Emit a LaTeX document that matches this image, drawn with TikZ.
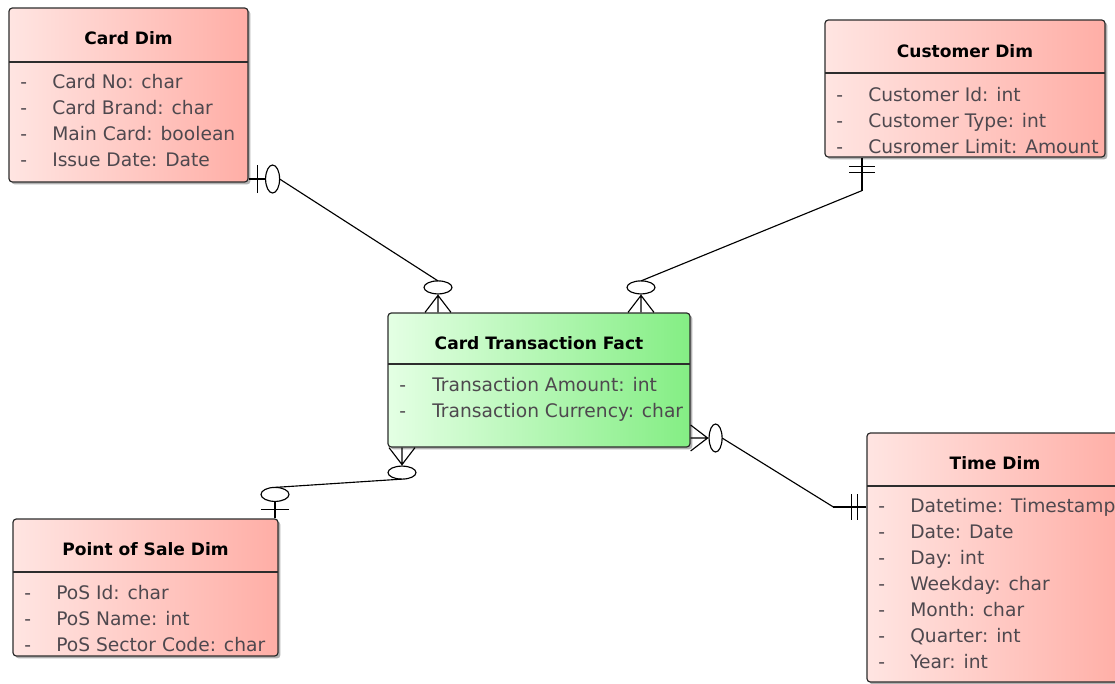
\documentclass[tikz,border=0pt]{standalone}
\usepackage{fontspec}
\setmainfont{DejaVu Sans}
\usetikzlibrary{shadows,fit}

\definecolor{dimL}{RGB}{255,229,226}
\definecolor{dimR}{RGB}{255,174,166}
\definecolor{factL}{RGB}{228,255,228}
\definecolor{factR}{RGB}{132,238,132}
\definecolor{rowtext}{RGB}{78,72,78}
\definecolor{edge}{RGB}{45,45,45}

\tikzset{
  tablebox/.style={draw=edge, line width=0.9pt, rounded corners=2.5pt, inner sep=0pt,
    drop shadow={shadow xshift=1.8pt, shadow yshift=-1.8pt, opacity=0.3, fill=black}},
  dimbox/.style={tablebox, left color=dimL, right color=dimR},
  factbox/.style={tablebox, left color=factL, right color=factR},
  sepline/.style={draw=edge, line width=0.9pt},
  tabletitle/.style={font=\fontsize{12.8}{15}\selectfont\bfseries, text=black, anchor=base, inner sep=0pt},
  attr/.style={font=\fontsize{14}{17}\selectfont, text=rowtext, anchor=base west, inner sep=0pt},
  rel/.style={draw=black, line width=0.85pt},
  % zero or many: crow's foot with a ring
  zmany/.pic={
    \draw[rel] (0,0) -- (0,18) (-13,0) -- (0,17) -- (13,0);
    \draw[rel, fill=white] (0,25) ellipse [x radius=14, y radius=6.5];
    \coordinate (-tip) at (0,31.5);
  },
  % zero or one: bar with a ring
  zone/.pic={
    \draw[rel] (0,0) -- (0,18) (-14,9) -- (14,9);
    \draw[rel, fill=white] (0,24) ellipse [x radius=14, y radius=7];
    \coordinate (-tip) at (0,31);
  },
  % one and only one: two bars
  oneone/.pic={
    \draw[rel] (0,0) -- (0,33) (-13,9) -- (13,9) (-13,15) -- (13,15);
    \coordinate (-tip) at (0,33);
  },
}

\begin{document}
\begin{tikzpicture}[x=0.75pt, y=-0.75pt]
\useasboundingbox (0,0) rectangle (1115,683);
\fill[white] (0,0) rectangle (1115,683);
\clip (0,0) rectangle (1115,683);

% ---------- Card Dim ----------
\node[dimbox, fit={(9,8) (248,182)}] (card) {};
\draw[sepline] (9,62) -- (248,62);
\node[tabletitle] (cardT) at (128.5,44) {Card Dim};
\foreach \t [count=\i] in {Card No: char, Card Brand: char, Main Card: boolean, Issue Date: Date}{
  \node[attr] (card-d\i) at (20,{88+26*(\i-1)}) {-};
  \node[attr] (card-a\i) at (52,{88+26*(\i-1)}) {\t};
}

% ---------- Customer Dim ----------
\node[dimbox, fit={(825,20) (1105,157)}] (cust) {};
\draw[sepline] (825,73) -- (1105,73);
\node[tabletitle] (custT) at (965,57) {Customer Dim};
\foreach \t [count=\i] in {Customer Id: int, Customer Type: int, Cusromer Limit: Amount}{
  \node[attr] (cust-d\i) at (836,{101+26*(\i-1)}) {-};
  \node[attr] (cust-a\i) at (868,{101+26*(\i-1)}) {\t};
}

% ---------- Card Transaction Fact ----------
\node[factbox, fit={(388,313) (690,447)}] (fact) {};
\draw[sepline] (388,364) -- (690,364);
\node[tabletitle] (factT) at (539,349) {Card Transaction Fact};
\foreach \t [count=\i] in {Transaction Amount: int, Transaction Currency: char}{
  \node[attr] (fact-d\i) at (399,{391+26*(\i-1)}) {-};
  \node[attr] (fact-a\i) at (432,{391+26*(\i-1)}) {\t};
}

% ---------- Time Dim ----------
\node[dimbox, fit={(867,433) (1123,682)}] (time) {};
\draw[sepline] (867,486) -- (1123,486);
\node[tabletitle] (timeT) at (995,469) {Time Dim};
\foreach \t [count=\i] in {Datetime: Timestamp, Date: Date, Day: int, Weekday: char, Month: char, Quarter: int, Year: int}{
  \node[attr] (time-d\i) at (878,{512+26.1*(\i-1)}) {-};
  \node[attr] (time-a\i) at (910,{512+26.1*(\i-1)}) {\t};
}

% ---------- Point of Sale Dim ----------
\node[dimbox, fit={(13,519) (278,656)}] (pos) {};
\draw[sepline] (13,572) -- (278,572);
\node[tabletitle] (posT) at (145.5,555) {Point of Sale Dim};
\foreach \t [count=\i] in {PoS Id: char, PoS Name: int, PoS Sector Code: char}{
  \node[attr] (pos-d\i) at (24,{599+26*(\i-1)}) {-};
  \node[attr] (pos-a\i) at (56,{599+26*(\i-1)}) {\t};
}

% ---------- relationship ends ----------
\pic[rotate=90]  (m1) at (card.east |- 0,179) {zone};
\pic[rotate=180] (m2) at (fact.north -| 438,0) {zmany};
\pic              (m3) at (cust.south -| 862,0) {oneone};
\pic[rotate=180] (m4) at (fact.north -| 641,0) {zmany};
\pic[rotate=90]  (m5) at (fact.east |- 0,438) {zmany};
\pic[rotate=-90] (m6) at (time.west |- 0,507) {oneone};
\pic              (m7) at (fact.south -| 402,0) {zmany};
\pic[rotate=180] (m8) at (pos.north -| 275,0) {zone};

% ---------- relationship lines ----------
\draw[rel] (m1-tip) -- (m2-tip);
\draw[rel] (m3-tip) -- (m4-tip);
\draw[rel] (m5-tip) -- (m6-tip);
\draw[rel] (m7-tip) -- (m8-tip);
\end{tikzpicture}
\end{document}
